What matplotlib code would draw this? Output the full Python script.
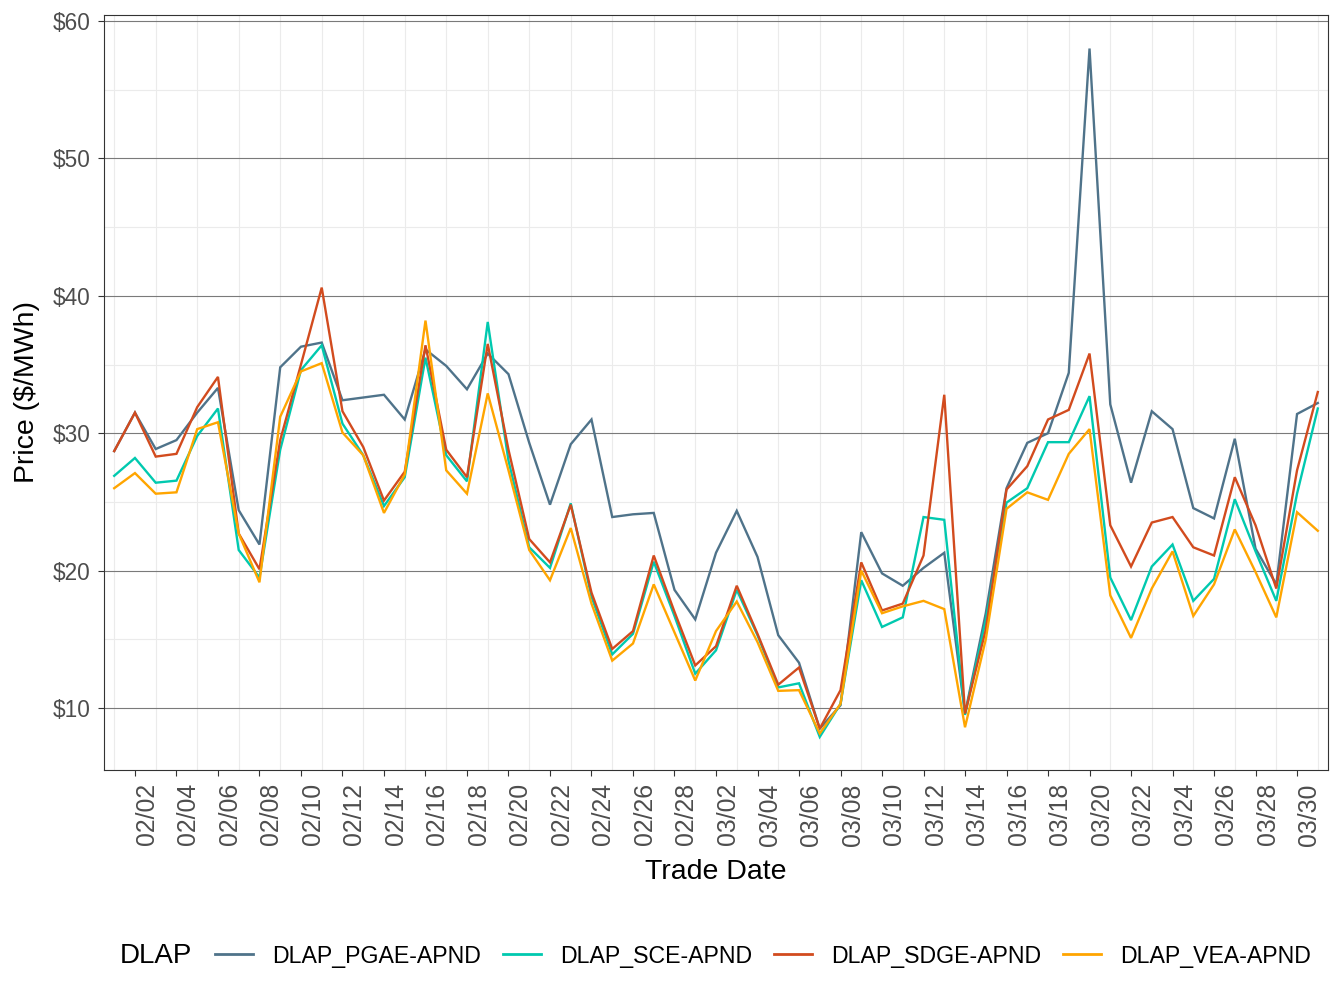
import numpy as np
import pandas as pd
import matplotlib
matplotlib.use('Agg')
import matplotlib.pyplot as plt
import matplotlib.dates as mdates
from matplotlib.lines import Line2D

plt.rcParams['font.family'] = ['Liberation Sans', 'DejaVu Sans']

# daily DLAP prices, 02/01 - 03/31
dates = pd.date_range('2021-02-01', '2021-03-31', freq='D')

pgae = [28.7, 31.5, 28.85, 29.5, 31.5, 33.3, 24.4, 21.9, 34.8, 36.3,
        36.6, 32.4, 32.6, 32.8, 31.0, 36.1, 34.9, 33.2, 35.8, 34.3,
        29.3, 24.8, 29.2, 31.0, 23.9, 24.1, 24.2, 18.6, 16.45, 21.3,
        24.35, 21.0, 15.3, 13.3, 8.5, 10.2, 22.8, 19.8, 18.9, 20.2,
        21.3, 9.6, 16.9, 26.0, 29.3, 30.0, 34.4, 58.0, 32.1, 26.4,
        31.6, 30.3, 24.55, 23.8, 29.6, 21.6, 19.0, 31.4, 32.2]
sce = [26.9, 28.2, 26.4, 26.55, 29.8, 31.8, 21.5, 19.5, 28.8, 34.6,
       36.4, 30.7, 28.4, 24.7, 26.8, 35.5, 28.4, 26.5, 38.1, 28.0,
       21.7, 20.2, 24.9, 18.1, 13.9, 15.4, 20.65, 16.7, 12.5, 14.2,
       18.6, 15.3, 11.5, 11.8, 7.9, 10.3, 19.3, 15.9, 16.6, 23.9,
       23.7, 9.5, 16.4, 24.95, 26.0, 29.35, 29.35, 32.7, 19.5, 16.4,
       20.3, 21.9, 17.8, 19.4, 25.2, 21.4, 17.8, 25.6, 31.8]
sdge = [28.7, 31.5, 28.3, 28.5, 31.9, 34.1, 22.7, 20.1, 29.5, 35.0,
        40.6, 31.6, 29.0, 25.1, 27.2, 36.4, 28.8, 26.8, 36.5, 28.8,
        22.3, 20.6, 24.8, 18.4, 14.3, 15.6, 21.1, 17.0, 13.1, 14.5,
        18.9, 15.4, 11.7, 12.95, 8.5, 11.3, 20.6, 17.1, 17.6, 21.1,
        32.8, 9.6, 15.7, 25.9, 27.6, 31.0, 31.7, 35.8, 23.3, 20.3,
        23.5, 23.9, 21.7, 21.1, 26.8, 23.3, 18.7, 27.3, 33.0]
vea = [26.0, 27.1, 25.6, 25.7, 30.3, 30.8, 22.7, 19.15, 31.2, 34.5,
       35.1, 30.05, 28.4, 24.2, 27.0, 38.2, 27.3, 25.6, 32.9, 27.3,
       21.5, 19.3, 23.1, 17.6, 13.45, 14.7, 19.0, 15.5, 12.0, 15.6,
       17.75, 14.8, 11.25, 11.3, 8.15, 10.3, 20.0, 16.9, 17.4, 17.8,
       17.2, 8.6, 15.0, 24.5, 25.7, 25.15, 28.5, 30.3, 18.2, 15.1,
       18.7, 21.4, 16.7, 19.0, 23.0, 19.9, 16.6, 24.25, 22.9]

series = ['DLAP_PGAE-APND', 'DLAP_SCE-APND', 'DLAP_SDGE-APND', 'DLAP_VEA-APND']
colors = ['#4F738A', '#00C9AF', '#D24B1E', '#FFA500']

fig = plt.figure(figsize=(13.44, 10.08), dpi=100)
ax = fig.add_axes([104/1344, 1 - 770/1008, 1224/1344, 755/1008])

for vals, col in zip([pgae, sce, sdge, vea], colors):
    ax.plot(dates, vals, color=col, lw=1.7, solid_joinstyle='miter')

ax.set_xlim(dates[0] - pd.Timedelta(hours=11.8), dates[-1] + pd.Timedelta(hours=11.8))
ax.set_ylim(5.49, 60.44)

ax.set_xticks(dates[1::2])
ax.xaxis.set_major_formatter(mdates.DateFormatter('%m/%d'))
ax.set_xticks(dates[0::2], minor=True)
ax.set_yticks(np.arange(10, 61, 10))
ax.set_yticklabels(['$%d' % v for v in range(10, 61, 10)])
ax.set_yticks(np.arange(15, 60, 10), minor=True)

ax.tick_params(axis='x', which='major', labelrotation=90, labelsize=17.8,
               colors='#333333', labelcolor='#4D4D4D', length=4.5, width=0.8, pad=5)
ax.tick_params(axis='y', which='major', labelsize=16.3,
               colors='#333333', labelcolor='#4D4D4D', length=4.5, width=0.8, pad=5)
ax.tick_params(which='minor', length=0)
for lab in ax.get_xticklabels():
    lab.set_horizontalalignment('left')

ax.grid(which='minor', axis='both', color='#EBEBEB', lw=0.8)
ax.grid(which='major', axis='y', color='#7A7A7A', lw=0.8)
ax.grid(which='major', axis='x', visible=False)
ax.set_axisbelow(True)
for s in ax.spines.values():
    s.set_color('#333333')
    s.set_linewidth(0.8)

fig.text(716/1344, 1 - 872/1008, 'Trade Date', ha='center', va='center', fontsize=20.5)
fig.text(27/1344, 1 - 392/1008, 'Price ($/MWh)', ha='center', va='center',
         rotation=90, fontsize=20.5)

fig.text(120/1344, 1 - 956/1008, 'DLAP', ha='left', va='center', fontsize=20)
handles = [Line2D([], [], color=c, lw=2.0) for c in colors]
fig.legend(handles, series, ncol=4, loc='center left',
           bbox_to_anchor=(215/1344, 1 - 956/1008), frameon=False,
           fontsize=16.7, handlelength=1.64, handletextpad=0.82,
           columnspacing=0.95, borderpad=0, borderaxespad=0)

fig.savefig('out.png', dpi=100)
